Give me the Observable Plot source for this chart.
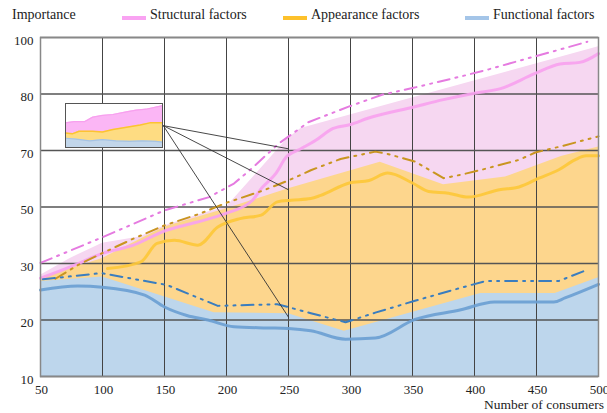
<!DOCTYPE html>
<html>
<head>
<meta charset="utf-8">
<script src="https://cdn.jsdelivr.net/npm/d3@7"></script>
<script src="https://cdn.jsdelivr.net/npm/@observablehq/plot@0.6"></script>
<style>
  html, body { margin: 0; padding: 0; background: #fff; }
  #chart { position: relative; width: 607px; height: 413px; overflow: hidden;
           font-family: "Liberation Serif", "Times New Roman", serif; color: #222; }
  #chart svg { position: absolute; left: 0; top: 0; }
  .t { position: absolute; font-size: 14px; line-height: 14px; white-space: nowrap; }
  .sw { position: absolute; width: 24px; height: 4px; }
</style>
</head>
<body>
<div id="chart"></div>
<script>
// ---------- data ----------
const xTicks = [50, 100, 150, 200, 250, 300, 350, 400, 450, 500];
const yTicks = [10, 20, 30, 50, 70, 80, 100];

const seriesNames = ["Structural factors", "Appearance factors", "Functional factors"];
const yTitle = "Importance";
const xTitle = "Number of consumers";

// upper edges of the shaded bands
const structuralBandX = [50, 74, 100, 130, 150, 185, 200, 248, 260, 500];
const structuralBandY = [27.9, 31.8, 37.2, 39.4, 43.4, 48.2, 50.0, 71.8, 73.9, 96.7];
const appearanceBandX = [50, 100, 150, 200, 250, 324, 375, 425, 470, 500];
const appearanceBandY = [27.4, 31.8, 42.9, 49.4, 56.5, 65.8, 57.9, 60.6, 67.9, 70.6];
const functionalBandX = [50, 100, 190, 250, 295, 405, 465, 500];
const functionalBandY = [26.8, 27.6, 21.3, 21.1, 18.0, 24.7, 24.7, 27.5];

// solid curves
const structuralX = [50, 75, 100, 125, 150, 175, 200, 221, 228, 240, 248, 260, 272, 286, 300, 314, 351, 375, 400, 421, 448, 469, 485, 500];
const structuralY = [27.4, 29.5, 33.6, 36.5, 41.5, 44.5, 47.8, 52.4, 56.5, 62.0, 67.6, 70.3, 71.8, 73.9, 74.6, 75.7, 77.7, 79.0, 80.3, 81.9, 87.1, 90.6, 91.2, 94.3];
const appearanceX = [104, 131, 144, 158, 177, 193, 211, 228, 241, 252, 268, 276, 299, 315, 330, 350, 363, 379, 395, 420, 436, 452, 468, 481, 490, 500];
const appearanceY = [29.1, 30.6, 37.1, 38.2, 36.5, 42.9, 45.9, 47.1, 51.8, 52.4, 53.0, 54.1, 58.5, 59.4, 62.0, 58.5, 55.5, 54.9, 53.5, 56.1, 57.1, 60.2, 63.2, 66.7, 68.1, 68.1];
const functionalX = [50, 80, 100, 134, 150, 168, 185, 206, 233, 250, 268, 296, 320, 352, 389, 416, 464, 473, 500];
const functionalY = [25.3, 26.0, 25.8, 24.4, 22.3, 20.8, 20.0, 18.8, 18.6, 18.5, 18.1, 16.6, 16.8, 20.1, 21.8, 23.2, 23.2, 23.9, 26.3];

// dash-dot-dot curves
const structuralDashX = [50, 100, 150, 186, 206, 220, 242, 266, 299, 326, 350, 389, 412, 446, 471, 491];
const structuralDashY = [30.2, 39.3, 48.8, 53.5, 58.3, 63.5, 71.2, 75.0, 77.8, 79.9, 82.1, 86.2, 88.8, 93.0, 96.0, 98.5];
const appearanceDashX = [62, 80, 99, 125, 150, 179, 200, 230, 250, 268, 292, 320, 328, 352, 375, 389, 406, 436, 449, 471, 500];
const appearanceDashY = [27.3, 29.7, 33.5, 38.8, 43.5, 47.7, 51.5, 55.9, 59.4, 63.0, 67.0, 69.6, 69.0, 66.1, 60.2, 61.4, 63.2, 66.7, 69.3, 70.8, 72.5];
const functionalDashX = [52, 99, 152, 193, 241, 268, 296, 320, 352, 389, 409, 468, 491];
const functionalDashY = [27.2, 28.3, 26.2, 22.5, 22.8, 21.2, 19.6, 21.3, 23.4, 25.7, 26.9, 26.9, 28.9];

// detail view (relative position 0–1, share of its height 0–100)
const insetStructuralX = [0, 0.09, 0.2, 0.28, 0.38, 0.49, 0.63, 0.73, 0.83, 1];
const insetStructuralY = [56, 59, 59, 69, 73, 75, 81, 85, 87, 95];
const insetAppearanceX = [0, 0.07, 0.14, 0.28, 0.38, 0.49, 0.63, 0.77, 0.87, 1];
const insetAppearanceY = [33, 31, 37, 37, 35, 41, 46, 51, 56, 56];
const insetFunctionalX = [0, 0.11, 0.25, 0.38, 0.52, 0.66, 0.79, 0.93, 1];
const insetFunctionalY = [21, 19, 15, 18, 15, 14, 15, 14, 12];

// leader lines from the detail view to the bands at 250 consumers
const leaderX = 250;
const leaderY = [70.3, 56.1, 20.5];

// ---------- layout ----------
const W = 607, H = 413;
const MT = 37, MR = 9, MB = 37, ML = 40;
// evenly spaced gridlines for the uneven tick values
const yRange = yTicks.map((_, i) => H - MB - i * (H - MB - MT) / (yTicks.length - 1));
const insetBox = {x1: 70, x2: 148, yTop: 78.3, yBottom: 70.6};
const leaderFrom = {x: 149, y: 74.4};

const colors = {
  structural: {fill: "#f6d7f1", line: "#f7a2ef", dash: "#e57be0", key: "#f9a3f2", inset: "#fbb6f5", insetLine: "#f7a0ee"},
  appearance: {fill: "#fdd68d", line: "#fdc83a", dash: "#c99520", key: "#fdc12b", inset: "#fedc82", insetLine: "#fcc332"},
  functional: {fill: "#bdd6ec", line: "#6b9fd3", dash: "#3a7dbf", key: "#a4c5e8", inset: "#c2d6ea", insetLine: "#a6c3e3"}
};
const dashPattern = "12,6,2,6,2,6";

const pts = (xs, ys) => xs.map((x, i) => ({x, y: ys[i]}));
const band = (xs, ys, fill) => Plot.areaY(pts(xs, ys), {x: "x", y1: yTicks[0], y2: "y", fill});
const solid = (xs, ys, stroke) => Plot.line(pts(xs, ys), {x: "x", y: "y", stroke, strokeWidth: 3, strokeOpacity: 0.92, curve: "monotone-x"});
const dashed = (xs, ys, stroke) => Plot.line(pts(xs, ys), {x: "x", y: "y", stroke, strokeWidth: 2, strokeDasharray: dashPattern});

const chart = Plot.plot({
  width: W, height: H,
  marginTop: MT, marginRight: MR, marginBottom: MB, marginLeft: ML,
  style: {fontFamily: '"Liberation Serif", "Times New Roman", serif', fontSize: "13px", color: "#222", background: "transparent", overflow: "visible"},
  x: {type: "linear", domain: [xTicks[0], xTicks[xTicks.length - 1]]},
  y: {type: "linear", domain: yTicks, range: yRange},
  marks: [
    band(structuralBandX, structuralBandY, colors.structural.fill),
    band(appearanceBandX, appearanceBandY, colors.appearance.fill),
    band(functionalBandX, functionalBandY, colors.functional.fill),
    Plot.gridX(xTicks, {stroke: "#444", strokeOpacity: 1, strokeWidth: 1}),
    Plot.gridY(yTicks, {stroke: "#555", strokeOpacity: 1, strokeWidth: 1.3}),
    solid(structuralX, structuralY, colors.structural.line),
    solid(appearanceX, appearanceY, colors.appearance.line),
    solid(functionalX, functionalY, colors.functional.line),
    dashed(structuralDashX, structuralDashY, colors.structural.dash),
    dashed(appearanceDashX, appearanceDashY, colors.appearance.dash),
    dashed(functionalDashX, functionalDashY, colors.functional.dash),
    Plot.link(leaderY, {x1: leaderFrom.x, y1: leaderFrom.y, x2: leaderX, y2: d => d, stroke: "#333", strokeWidth: 0.9}),
    Plot.frame({stroke: "#888", strokeWidth: 1.5}),
    Plot.axisX(xTicks, {tickSize: 0, tickPadding: 8, label: null, dx: 1}),
    Plot.axisY(yTicks, {tickSize: 0, tickPadding: 7, label: null, dy: 3})
  ]
});

const root = document.getElementById("chart");
root.appendChild(chart);

// detail view placed on the main scales
const sx = chart.scale("x"), sy = chart.scale("y");
const ix1 = sx.apply(insetBox.x1), ix2 = sx.apply(insetBox.x2);
const iy1 = sy.apply(insetBox.yTop), iy2 = sy.apply(insetBox.yBottom);
const inset = Plot.plot({
  width: Math.round(ix2 - ix1), height: Math.round(iy2 - iy1), margin: 0,
  style: {background: "#fff", overflow: "visible"},
  x: {domain: [0, 1], axis: null},
  y: {domain: [0, 100], axis: null},
  marks: [
    Plot.areaY(pts(insetStructuralX, insetStructuralY), {x: "x", y1: 0, y2: "y", fill: colors.structural.inset}),
    Plot.line(pts(insetStructuralX, insetStructuralY), {x: "x", y: "y", stroke: colors.structural.insetLine, strokeWidth: 1.2}),
    Plot.areaY(pts(insetAppearanceX, insetAppearanceY), {x: "x", y1: 0, y2: "y", fill: colors.appearance.inset}),
    Plot.line(pts(insetAppearanceX, insetAppearanceY), {x: "x", y: "y", stroke: colors.appearance.insetLine, strokeWidth: 1.5}),
    Plot.areaY(pts(insetFunctionalX, insetFunctionalY), {x: "x", y1: 0, y2: "y", fill: colors.functional.inset}),
    Plot.line(pts(insetFunctionalX, insetFunctionalY), {x: "x", y: "y", stroke: colors.functional.insetLine, strokeWidth: 1.2}),
    Plot.frame({stroke: "#555", strokeWidth: 1})
  ]
});
inset.style.left = Math.round(ix1) + "px";
inset.style.top = Math.round(iy1) + "px";
root.appendChild(inset);

// titles and legend
function addText(txt, left, top) {
  const d = document.createElement("div");
  d.className = "t";
  d.textContent = txt;
  d.style.left = left + "px";
  d.style.top = top + "px";
  root.appendChild(d);
  return d;
}
function addSwatch(color, left, top) {
  const d = document.createElement("div");
  d.className = "sw";
  d.style.background = color;
  d.style.left = left + "px";
  d.style.top = top + "px";
  root.appendChild(d);
}
addText(yTitle, 12, 8);
const keyColors = [colors.structural.key, colors.appearance.key, colors.functional.key];
const keyLeft = [122, 283, 465];
seriesNames.forEach((name, i) => {
  addSwatch(keyColors[i], keyLeft[i], 15.5);
  addText(name, keyLeft[i] + 28, 8);
});
const xt = addText(xTitle, 484, 398);
xt.style.fontSize = "13.5px";
</script>
</body>
</html>
